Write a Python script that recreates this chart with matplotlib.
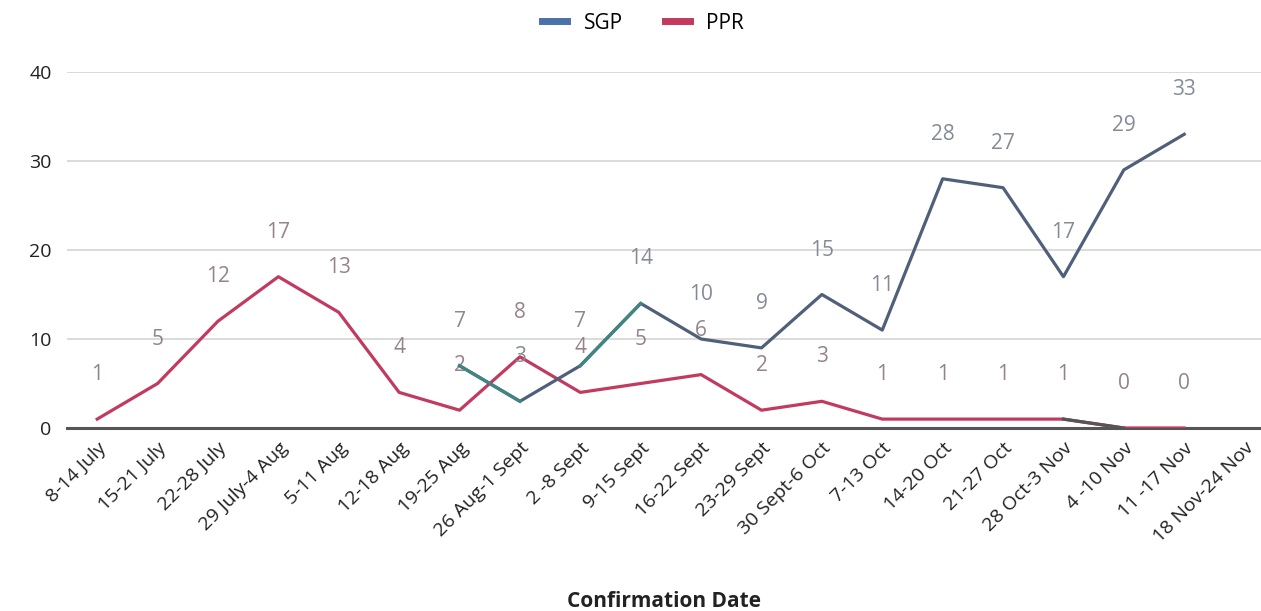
import numpy as np
import matplotlib
matplotlib.use('Agg')
import matplotlib.pyplot as plt
from matplotlib.lines import Line2D

plt.rcParams['font.family'] = ['Open Sans', 'DejaVu Sans']

# 数据
weeks = ['8-14 July', '15-21 July', '22-28 July', '29 July-4 Aug', '5-11 Aug',
         '12-18 Aug', '19-25 Aug', '26 Aug-1 Sept', '2 -8 Sept', '9-15 Sept',
         '16-22 Sept', '23-29 Sept', '30 Sept-6 Oct', '7-13 Oct', '14-20 Oct',
         '21-27 Oct', '28 Oct-3 Nov', '4 -10 Nov', '11 -17 Nov', '18 Nov-24 Nov']
sgp = [None, None, None, None, None, None, 7, 3, 7, 14, 10, 9, 15, 11, 28, 27, 17, 29, 33, None]
ppr = [1, 5, 12, 17, 13, 4, 2, 8, 4, 5, 6, 2, 3, 1, 1, 1, 1, 0, 0, None]

x = np.arange(len(weeks))
sgp_arr = np.array([np.nan if v is None else v for v in sgp], dtype=float)
ppr_arr = np.array([np.nan if v is None else v for v in ppr], dtype=float)

c_sgp = '#50607a'
c_ppr = '#c23a5e'
c_teal = '#3f8683'

fig = plt.figure(figsize=(12.61, 6.11), dpi=100)
ax = fig.add_axes([67 / 1261, 1 - 428 / 611, 1 - 67 / 1261, (428 - 72) / 611])

ax.plot(x, ppr_arr, color=c_ppr, lw=2.3, zorder=3)
ax.plot(x[16:18], ppr_arr[16:18], color='#555555', lw=2.3, zorder=4)
ax.plot(x, sgp_arr, color=c_sgp, lw=2.3, zorder=3)
ax.plot(x[6:8], sgp_arr[6:8], color=c_teal, lw=2.3, zorder=4)
ax.plot(x[8:10], sgp_arr[8:10], color=c_teal, lw=2.3, zorder=4)

# 数据标签
for xi, v in zip(x, sgp_arr):
    if not np.isnan(v):
        ax.annotate('%d' % v, (xi, v), xytext=(0, 32), textcoords='offset points',
                    ha='center', va='center', fontsize=15, color='#858b96')
for xi, v in zip(x, ppr_arr):
    if not np.isnan(v):
        ax.annotate('%d' % v, (xi, v), xytext=(0, 32), textcoords='offset points',
                    ha='center', va='center', fontsize=15, color='#958389')

ax.set_ylim(0, 40)
ax.set_xlim(-0.5, (1261 - 97) / 60.4)
ax.set_yticks([0, 10, 20, 30, 40])
ax.yaxis.grid(True, color='#d4d4d4', lw=1.2)
ax.set_axisbelow(True)
for s in ['top', 'right', 'left']:
    ax.spines[s].set_visible(False)
ax.spines['bottom'].set_color('#555555')
ax.spines['bottom'].set_linewidth(2.2)
ax.tick_params(axis='y', length=0, labelsize=14, pad=11, colors='#222222')
ax.tick_params(axis='x', length=0, labelsize=14, pad=8, colors='#222222')
ax.set_xticks(x)
ax.set_xticklabels(weeks, rotation=45, ha='right', rotation_mode='anchor')
ax.set_xlabel('Confirmation Date', fontsize=15, fontweight='bold', color='#222222', labelpad=32)

handles = [Line2D([0], [0], color='#4a72a8', lw=5),
           Line2D([0], [0], color=c_ppr, lw=5)]
fig.legend(handles, ['SGP', 'PPR'], loc='center', bbox_to_anchor=(0.51, 0.962), ncol=2,
           frameon=False, fontsize=15, handlelength=1.2, columnspacing=2.0, handletextpad=0.8)

plt.savefig('out.png', dpi=100)
